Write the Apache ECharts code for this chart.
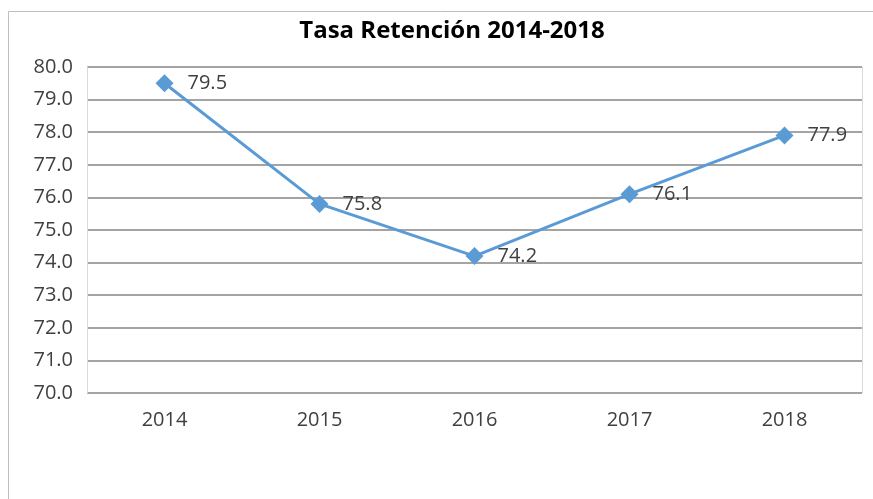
<!DOCTYPE html>
<html>
<head>
<meta charset="utf-8">
<title>Tasa Retención</title>
<script src="https://cdn.jsdelivr.net/npm/echarts@6/dist/echarts.min.js"></script>
<style>
  html, body { margin: 0; padding: 0; background: #fff; }
  #main { width: 873px; height: 499px; }
</style>
</head>
<body>
<div id="main"></div>
<script type="text/javascript">
    // datos del grafico
    var anios = ['2014', '2015', '2016', '2017', '2018'];
    var tasa = [79.5, 75.8, 74.2, 76.1, 77.9];

    var myChart = echarts.init(document.getElementById('main'));
    var fuente = 'Open Sans';

    var option = {
        animation: false,
        title: {
            text: 'Tasa Retención 2014-2018',
            left: 447,
            textAlign: 'center',
            top: 14,
            textStyle: { fontFamily: fuente, fontSize: 24, fontWeight: 'bold', color: '#000' }
        },
        graphic: [
            // marco exterior
            { type: 'line', shape: { x1: 8.5, y1: 11.5, x2: 873, y2: 11.5 }, style: { stroke: '#bfbfbf', lineWidth: 1 } },
            { type: 'line', shape: { x1: 8.5, y1: 11.5, x2: 8.5, y2: 499 }, style: { stroke: '#bfbfbf', lineWidth: 1 } },
            // borde derecho del area de trazado
            { type: 'line', shape: { x1: 862.5, y1: 67, x2: 862.5, y2: 393 }, style: { stroke: '#d9d9d9', lineWidth: 1 } }
        ],
        grid: {
            left: 87,
            top: 67,
            width: 775,
            height: 326
        },
        xAxis: {
            type: 'category',
            data: anios,
            boundaryGap: true,
            axisLine: { show: false },
            axisTick: { show: false },
            axisLabel: { fontFamily: fuente, fontSize: 20, color: '#404040', margin: 17 }
        },
        yAxis: {
            type: 'value',
            min: 70,
            max: 80,
            interval: 1,
            axisLine: { show: true, lineStyle: { color: '#d9d9d9', width: 1 } },
            axisTick: { show: false },
            axisLabel: {
                fontFamily: fuente, fontSize: 20, color: '#404040', margin: 14,
                formatter: function (v) { return v.toFixed(1); }
            },
            splitLine: { lineStyle: { color: '#868686', width: 1.5 } }
        },
        series: [{
            name: 'Tasa',
            type: 'line',
            data: tasa,
            symbol: 'diamond',
            symbolSize: 18,
            itemStyle: { color: '#5b9bd5' },
            lineStyle: { color: '#5b9bd5', width: 3 },
            label: {
                show: true,
                position: 'right',
                distance: 14,
                fontFamily: fuente,
                fontSize: 20,
                color: '#404040',
                formatter: function (p) { return p.value.toFixed(1); }
            }
        }]
    };
    myChart.setOption(option);
</script>
</body>
</html>
